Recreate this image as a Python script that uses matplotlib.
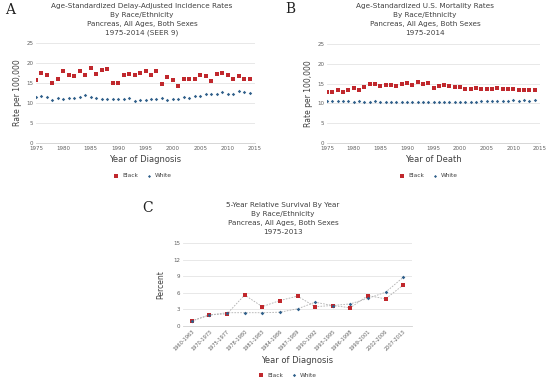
import matplotlib
matplotlib.use("Agg")
import matplotlib.pyplot as plt

years = list(range(1975, 2015))

inc_black = [15.8, 17.4, 17.0, 15.1, 16.0, 17.9, 17.0, 16.8, 18.1, 17.1,
             18.8, 17.3, 18.3, 18.5, 15.0, 15.1, 17.0, 17.3, 16.9, 17.4,
             18.1, 16.9, 17.9, 14.7, 16.5, 15.7, 14.2, 16.0, 16.1, 16.0,
             17.0, 16.7, 15.5, 17.3, 17.4, 17.0, 15.9, 16.8, 15.9, 16.1]
inc_white = [11.6, 11.7, 11.5, 10.8, 11.2, 11.1, 11.3, 11.3, 11.6, 11.9,
             11.6, 11.2, 11.0, 11.1, 11.0, 11.0, 11.0, 11.3, 10.4, 10.8,
             10.7, 10.9, 10.9, 11.2, 10.7, 11.0, 11.0, 11.4, 11.3, 11.7,
             11.7, 12.3, 12.3, 12.2, 12.7, 12.2, 12.2, 13.0, 12.7, 12.6]

mort_black = [12.8, 12.9, 13.3, 12.9, 13.4, 13.8, 13.4, 14.1, 14.8, 14.9,
              14.4, 14.6, 14.6, 14.5, 14.9, 15.2, 14.6, 15.4, 15.0, 15.2,
              13.9, 14.4, 14.6, 14.5, 14.2, 14.1, 13.7, 13.7, 13.8, 13.7,
              13.7, 13.7, 14.0, 13.7, 13.7, 13.7, 13.4, 13.4, 13.5, 13.3]
mort_white = [10.5, 10.5, 10.6, 10.6, 10.5, 10.4, 10.5, 10.4, 10.4, 10.5,
              10.4, 10.4, 10.4, 10.3, 10.4, 10.4, 10.4, 10.4, 10.4, 10.4,
              10.3, 10.3, 10.3, 10.4, 10.4, 10.4, 10.4, 10.4, 10.4, 10.5,
              10.6, 10.6, 10.6, 10.7, 10.7, 10.8, 10.7, 10.8, 10.7, 10.8]

surv_periods = ["1960-1963", "1970-1973", "1975-1977", "1978-1980", "1981-1983",
                "1984-1986", "1987-1989", "1990-1992", "1993-1995", "1996-1998",
                "1999-2001", "2002-2006", "2007-2013"]
surv_black = [0.9, 2.0, 2.2, 5.6, 3.5, 4.6, 5.4, 3.5, 3.7, 3.3, 5.5, 4.9, 7.4]
surv_white = [0.9, 2.0, 2.4, 2.4, 2.4, 2.5, 3.1, 4.3, 3.7, 4.0, 5.0, 6.1, 8.8]

RED = "#c0282d"
BLUE = "#2f5f8a"
GRID = "#e4e4e4"
TXT = "#404040"
TICK = "#606060"

W, H = 550, 378
fig = plt.figure(figsize=(W / 100, H / 100), dpi=100)


def ax_at(x0, y0, x1, y1):
    return fig.add_axes([x0 / W, 1 - y1 / H, (x1 - x0) / W, (y1 - y0) / H])


def style(ax):
    for s in ax.spines.values():
        s.set_visible(False)
    ax.spines["bottom"].set_visible(True)
    ax.spines["bottom"].set_color("#d0d0d0")
    ax.spines["bottom"].set_linewidth(0.6)
    ax.tick_params(axis="both", length=0, labelsize=4, colors=TICK, pad=2)
    ax.grid(axis="y", color=GRID, linewidth=0.6)
    ax.set_axisbelow(True)


def titles(xc, y0, lines):
    for i, t in enumerate(lines):
        fig.text(xc / W, 1 - (y0 + i * 9) / H, t, ha="center", va="center",
                 fontsize=5.2, color=TXT)


# Panel A
axA = ax_at(36, 43, 255, 143)
style(axA)
axA.scatter(years, inc_black, marker="s", s=7, color=RED, label="Black", zorder=3, linewidths=0)
axA.scatter(years, inc_white, marker="D", s=3, color=BLUE, label="White", zorder=3, linewidths=0)
axA.set_xlim(1975, 2015)
axA.set_ylim(0, 25)
axA.set_xticks(range(1975, 2016, 5))
axA.set_yticks(range(0, 26, 5))
axA.set_ylabel("Rate per 100,000", fontsize=5.5, color=TXT, labelpad=3)
axA.set_xlabel("Year of Diagnosis", fontsize=6, color=TXT, labelpad=3)
axA.legend(loc="upper center", bbox_to_anchor=(0.48, -0.25), ncol=2, frameon=False,
           fontsize=4.2, handletextpad=0.1, columnspacing=0.8, markerscale=0.9,
           labelcolor=TXT)
titles(142, 6, ["Age-Standardized Delay-Adjusted Incidence Rates", "By Race/Ethnicity",
                "Pancreas, All Ages, Both Sexes", "1975-2014 (SEER 9)"])
fig.text(5 / W, 1 - 10 / H, "A", fontsize=10, family="DejaVu Serif", va="center", color="#202020")

# Panel B
axB = ax_at(327, 44, 540, 143)
style(axB)
axB.scatter(years, mort_black, marker="s", s=7, color=RED, label="Black", zorder=3, linewidths=0)
axB.scatter(years, mort_white, marker="D", s=3, color=BLUE, label="White", zorder=3, linewidths=0)
axB.set_xlim(1975, 2015)
axB.set_ylim(0, 25)
axB.set_xticks(range(1975, 2016, 5))
axB.set_yticks(range(0, 26, 5))
axB.set_ylabel("Rate per 100,000", fontsize=5.5, color=TXT, labelpad=3)
axB.set_xlabel("Year of Death", fontsize=6, color=TXT, labelpad=3)
axB.legend(loc="upper center", bbox_to_anchor=(0.47, -0.25), ncol=2, frameon=False,
           fontsize=4.2, handletextpad=0.1, columnspacing=0.8, markerscale=0.9,
           labelcolor=TXT)
titles(425, 6, ["Age-Standardized U.S. Mortality Rates", "By Race/Ethnicity",
                "Pancreas, All Ages, Both Sexes", "1975-2014"])
fig.text(285 / W, 1 - 9 / H, "B", fontsize=10, family="DejaVu Serif", va="center", color="#202020")

# Panel C
axC = ax_at(183, 243, 412, 326)
style(axC)
xs = list(range(len(surv_periods)))
axC.plot(xs, surv_black, linestyle=(0, (2, 1.5)), color="#b0b0b0", linewidth=0.6, zorder=2)
axC.plot(xs, surv_white, linestyle=(0, (2, 1.5)), color="#b0b0b0", linewidth=0.6, zorder=2)
axC.scatter(xs, surv_black, marker="s", s=9, color=RED, label="Black", zorder=3, linewidths=0)
axC.scatter(xs, surv_white, marker="D", s=3.5, color=BLUE, label="White", zorder=4, linewidths=0)
axC.set_xlim(-0.5, len(surv_periods) - 0.5)
axC.set_ylim(0, 15)
axC.set_yticks(range(0, 16, 3))
axC.set_xticks(xs)
axC.set_xticklabels(surv_periods, rotation=45, ha="right", rotation_mode="anchor", fontsize=3.6)
axC.set_ylabel("Percent", fontsize=5.5, color=TXT, labelpad=6)
axC.set_xlabel("Year of Diagnosis", fontsize=6, color=TXT, labelpad=3)
axC.legend(loc="upper center", bbox_to_anchor=(0.45, -0.5), ncol=2, frameon=False,
           fontsize=4.2, handletextpad=0.1, columnspacing=0.8, markerscale=0.9,
           labelcolor=TXT)
titles(283, 205, ["5-Year Relative Survival By Year", "By Race/Ethnicity",
                  "Pancreas, All Ages, Both Sexes", "1975-2013"])
fig.text(142 / W, 1 - 208 / H, "C", fontsize=10, family="DejaVu Serif", va="center", color="#202020")

fig.savefig("out.png", dpi=100)
